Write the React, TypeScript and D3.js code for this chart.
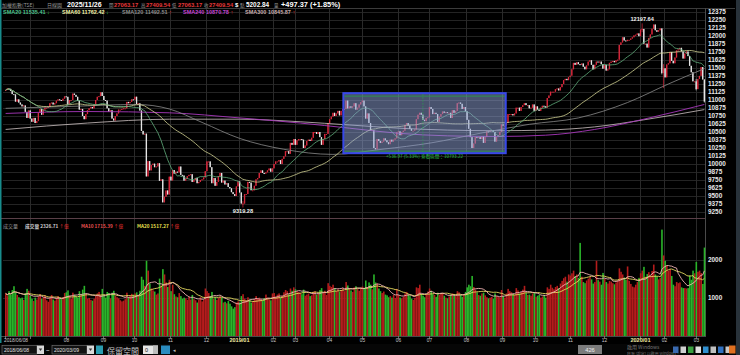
import React from "react";
import * as d3 from "d3";

// ---------- data ----------
const monthLabels = ["2018/06/08", "", "08", "09", "10", "11", "12", "2019/01", "02", "03", "04", "05", "06", "07", "08", "09", "10", "11", "12", "2020/01", "02", "03"];
const monthDays = [15, 22, 23, 19, 22, 22, 20, 21, 13, 21, 20, 22, 19, 23, 22, 20, 21, 21, 22, 15, 19, 6];

const closes = [
  // 2018/06
  11156, 11180, 11175, 11140, 11092, 11087, 10975, 11010, 10960, 10930, 10900, 10915, 10815, 10720, 10836,
  // 07
  10710, 10660, 10720, 10640, 10670, 10800, 10860, 10770, 10850, 10880, 10880, 10890, 10950, 10960, 10930, 10950, 10990, 11010, 11000, 10990, 11020, 11057,
  // 08
  11050, 10930, 11000, 11000, 11100, 11080, 11050, 10990, 10850, 10860, 10750, 10700, 10780, 10840, 10870, 10890, 10870, 10930, 11000, 11050, 11060, 11120, 11063,
  // 09
  11000, 10990, 10870, 10820, 10840, 10710, 10680, 10750, 10790, 10850, 10850, 10860, 10870, 10870, 10970, 10950, 10970, 11010, 11006,
  // 10
  11051, 10937, 10948, 10836, 10517, 10462, 10474, 9806, 10045, 9901, 9984, 10005, 9950, 9962, 10012, 9737, 9760, 9401, 9489, 9586, 9524, 9802,
  // 11
  9743, 9906, 9850, 9880, 9870, 9960, 9830, 9820, 9740, 9770, 9810, 9830, 9840, 9720, 9750, 9780, 9700, 9720, 9750, 9760, 9790, 9888,
  // 12
  10040, 10040, 9950, 9700, 9780, 9660, 9720, 9810, 9860, 9710, 9740, 9680, 9700, 9640, 9620, 9560, 9530, 9500, 9650, 9727,
  // 2019/01
  9555, 9382, 9382, 9528, 9531, 9720, 9709, 9590, 9590, 9660, 9760, 9780, 9860, 9900, 9860, 9850, 9870, 9900, 9930, 9880, 9932,
  // 02
  10000, 10040, 10040, 10060, 10000, 10080, 10120, 10200, 10200, 10160, 10330, 10300, 10390,
  // 03
  10300, 10370, 10390, 10390, 10380, 10250, 10290, 10360, 10380, 10360, 10410, 10500, 10500, 10470, 10500, 10420, 10300, 10390, 10470, 10470, 10641,
  // 04
  10700, 10740, 10800, 10750, 10790, 10830, 10760, 10830, 10860, 10860, 10990, 10870, 10900, 10880, 10900, 10950, 10850, 10880, 10930, 10967,
  // 05
  10990, 10900, 10710, 10790, 10640, 10530, 10530, 10250, 10230, 10390, 10360, 10330, 10350, 10400, 10370, 10340, 10310, 10380, 10350, 10380, 10400, 10498,
  // 06
  10510, 10450, 10500, 10520, 10610, 10640, 10600, 10550, 10520, 10520, 10540, 10700, 10770, 10800, 10770, 10690, 10670, 10720, 10730,
  // 07
  10890, 10860, 10780, 10800, 10780, 10660, 10740, 10780, 10820, 10800, 10810, 10800, 10800, 10720, 10840, 10800, 10830, 10950, 10960, 10940, 10860, 10890, 10823,
  // 08
  10690, 10550, 10420, 10250, 10320, 10420, 10410, 10420, 10390, 10430, 10330, 10420, 10510, 10500, 10520, 10530, 10500, 10350, 10420, 10450, 10500, 10618,
  // 09
  10600, 10600, 10640, 10780, 10780, 10780, 10760, 10790, 10880, 10880, 10830, 10890, 10920, 10950, 10920, 10920, 10870, 10880, 10930, 10830,
  // 10
  10900, 10850, 10830, 10880, 10910, 10900, 10880, 11030, 11070, 11130, 11130, 11130, 11170, 11180, 11150, 11200, 11250, 11310, 11330, 11310, 11358,
  // 11
  11380, 11480, 11580, 11550, 11590, 11560, 11550, 11570, 11520, 11480, 11540, 11600, 11620, 11550, 11480, 11550, 11600, 11590, 11600, 11560, 11490,
  // 12
  11550, 11460, 11480, 11580, 11600, 11610, 11590, 11620, 11630, 11860, 11900, 11980, 11930, 11920, 11940, 11940, 11960, 11980, 12010, 12020, 12040, 11997,
  // 2020/01
  12100, 12110, 11880, 11880, 11820, 11970, 12024, 12113, 12179, 12090, 12066, 12090, 12118, 11421, 11495,
  // 02
  11354, 11555, 11573, 11750, 11612, 11574, 11664, 11774, 11790, 11815, 11760, 11648, 11725, 11758, 11686, 11534, 11433, 11292, 11292,
  // 03
  11170, 11327, 11377, 11514, 11321, 10977,
];

const volumes = [
  1120, 1050, 1180, 1090, 1210, 1310, 1150, 1080, 1020, 990, 1010, 950, 1130, 1240, 1190,
  1060, 980, 920, 1010, 960, 1040, 1100, 980, 1020, 1070, 940, 900, 1000, 1080, 960, 930, 1010, 1050, 990, 970, 1020, 1130,
  1150, 1200, 1060, 980, 1140, 1090, 1030, 1010, 1180, 1070, 1220, 1320, 1110, 980, 1000, 950, 930, 980, 1050, 1120, 1160, 1090, 1240,
  1080, 1010, 1160, 1130, 990, 1140, 1190, 1060, 1020, 990, 940, 910, 930, 970, 1140, 1020, 1050, 1110, 1090,
  1120, 1150, 1080, 1190, 1560, 1480, 1320, 1980, 1720, 1380, 1250, 1200, 1170, 1090, 1120, 1510, 1330, 1760, 1620, 1410, 1290, 1480,
  1180, 1350, 1100, 1040, 1020, 1130, 1050, 980, 1010, 990, 950, 1030, 960, 1080, 970, 940, 880, 950, 1020, 910, 960, 1250,
  1180, 1130, 1050, 1160, 980, 1020, 950, 1000, 1040, 1010, 880, 900, 860, 920, 850, 780, 720, 760, 880, 910,
  880, 1050, 1100, 980, 940, 1020, 960, 880, 920, 970, 1050, 990, 1010, 960, 930, 1000, 1090, 1010, 960, 940, 1120,
  1130, 1040, 1090, 1120, 1010, 1060, 1150, 1210, 1180, 1100, 1250, 1190, 1280,
  1230, 1180, 1160, 1130, 1100, 1220, 1060, 1090, 1120, 1050, 1070, 1160, 1180, 1090, 1120, 1210, 1260, 1130, 1190, 1080, 1390,
  1320, 1290, 1350, 1260, 1180, 1230, 1170, 1210, 1260, 1180, 1420, 1330, 1250, 1200, 1160, 1280, 1310, 1240, 1190, 1260,
  1300, 1250, 1460, 1280, 1410, 1350, 1230, 1620, 1410, 1380, 1250, 1180, 1130, 1170, 1090, 1070, 1020, 1050, 1010, 1080, 1000, 1240,
  1080, 1010, 990, 1030, 1120, 1160, 1090, 1050, 980, 950, 1000, 1280, 1260, 1350, 1110, 1060, 1020, 1090, 1170,
  1250, 1190, 1100, 1080, 1030, 1140, 1080, 1120, 1130, 1060, 1010, 990, 1040, 1090, 1120, 1060, 1050, 1180, 1150, 1090, 1030, 1100, 1160,
  1280, 1350, 1310, 1580, 1290, 1220, 1150, 1080, 1060, 1120, 1140, 1070, 1020, 990, 1010, 1030, 980, 1120, 1050, 1030, 1010, 1210,
  1050, 1010, 1120, 1240, 1180, 1150, 1100, 1080, 1260, 1200, 1120, 1160, 1220, 1320, 1130, 1080, 1090, 1060, 1120, 1140,
  1030, 1060, 1080, 1010, 1040, 1070, 1010, 1280, 1240, 1350, 1270, 1230, 1290, 1320, 1260, 1380, 1450, 1520, 1560, 1430, 1620,
  1590, 1650, 1720, 1580, 1620, 1530, 2450, 1560, 1420, 1390, 1460, 1510, 1550, 1490, 1380, 1420, 1980, 1470, 1430, 1350, 1660,
  1500, 1420, 1380, 1450, 1430, 1390, 1360, 1410, 1460, 1780, 1690, 1620, 1540, 1480, 1830, 1450, 1370, 1300, 1280, 1350, 1420, 1530,
  1650, 1720, 1820, 1560, 1630, 1680, 1590, 1710, 1880, 1620, 1560, 1490, 1530, 2800, 2120,
  1980, 1850, 1720, 1760, 1580, 1350, 1310, 1420, 1390, 1410, 1280, 1260, 1260, 1250, 1260, 1590, 1480, 1720, 1650,
  1950, 1690, 1720, 1657, 1370, 2327,
];

// notable intraday extremes: [bar index, high, low]
const wickMarks = [
  [145, 9420, 9319.28],
  [389, 12197.64, 12060],
  [401, 11650, 11400],
  [402, 11560, 11186],
  [422, 11330, 11150],
  [427, 11321, 10960],
];

// longer moving averages: [bar index, value]
const sma120Pts = [[0, 10870], [40, 10900], [80, 10930], [100, 10860], [120, 10650], [143, 10400], [170, 10230], [200, 10150], [230, 10230], [260, 10330], [290, 10480], [320, 10620], [350, 10720], [380, 10960], [405, 11250], [427, 11490]];
const sma240Pts = [[0, 10790], [50, 10820], [100, 10800], [143, 10720], [180, 10640], [210, 10560], [240, 10480], [270, 10440], [300, 10430], [330, 10450], [360, 10540], [390, 10700], [427, 10930]];
const sma300Pts = [[0, 10540], [50, 10640], [100, 10700], [143, 10700], [180, 10660], [210, 10610], [240, 10560], [270, 10530], [300, 10520], [330, 10530], [360, 10580], [390, 10690], [427, 10850]];

const priceTicks = d3.range(9250, 12376, 125);
const volTicks = [1000, 2000];

const headerItems = [
  { t: "加權指數(TSE)", c: "#9a9a9a", cjk: true, s: 5 },
  { t: "日線圖", c: "#9a9a9a", cjk: true, s: 5 },
  { t: "2025/11/26", c: "#ffffff", s: 7, b: true },
  { t: "開", c: "#9a9a9a", cjk: true, s: 4.5 },
  { t: "27063.17", c: "#e8383a", s: 5.8, b: true },
  { t: "高", c: "#9a9a9a", cjk: true, s: 4.5 },
  { t: "27409.54", c: "#e8383a", s: 5.8, b: true },
  { t: "低", c: "#9a9a9a", cjk: true, s: 4.5 },
  { t: "27063.17", c: "#e8383a", s: 5.8, b: true },
  { t: "收", c: "#9a9a9a", cjk: true, s: 4.5 },
  { t: "27409.54", c: "#e8383a", s: 5.8, b: true },
  { t: "$", c: "#ffffff", s: 6, b: true },
  { t: "點", c: "#9a9a9a", cjk: true, s: 4.5 },
  { t: "5202.84", c: "#ffffff", s: 6.4, b: true },
  { t: "量", c: "#9a9a9a", cjk: true, s: 4.5 },
  { t: "+497.37 (+1.85%)", c: "#ffffff", s: 7.4, b: true },
];
const headerX = [2, 47, 67, 109, 114, 141, 146, 172, 178, 204, 209, 235, 240, 246, 274, 281];

const smaLegend = [
  { name: "SMA20", val: "11535.41", up: false, c: "#4cc08c" },
  { name: "SMA60", val: "11762.42", up: false, c: "#f2f2a8" },
  { name: "SMA120", val: "11492.51", up: true, c: "#8c8c8c" },
  { name: "SMA240", val: "10870.78", up: true, c: "#c444d4" },
  { name: "SMA300", val: "10845.87", up: true, c: "#c8aeae" },
];
const smaLegendX = [3, 62, 122, 183, 245];

const volLegend = [
  { t: "成交量 2326.71", c: "#d0d0d0" },
  { t: "MA10 1715.39", c: "#e85050" },
  { t: "MA20 1517.27", c: "#e8e050" },
];
const volLegendX = [25, 81, 137];

const selStart = 208, selEnd = 304, selHigh = 11060, selLow = 10200, cursorIdx = 255;
const selText = "+536.97 (5.33%) 查看區間：10793.22";

const NUM = "'Liberation Sans', Arial, sans-serif";
const CJK = "'Noto Sans CJK TC', 'Noto Sans CJK SC', sans-serif";

const X0 = 5, X1 = 705;

export default function App() {
  const N = closes.length;
  const bx = d3.scaleBand<number>().domain(d3.range(N)).range([X0, X1]).paddingInner(0.2);
  const bw = bx.bandwidth();
  const left = (i: number) => bx(i) as number;
  const cx = (i: number) => left(i) + bw / 2;
  const yP = d3.scaleLinear().domain([9250, 12375]).range([212, 12]);
  const yV = d3.scaleLinear().domain([0, 2000]).range([336, 260]);

  const opens = closes.map((c, i) => (i === 0 ? c : closes[i - 1]));
  const wm = new Map<number, number[]>(wickMarks.map((w) => [w[0], w] as [number, number[]]));
  const highs = closes.map((c, i) => Math.max(c, opens[i], wm.has(i) ? wm.get(i)![1] : -Infinity));
  const lows = closes.map((c, i) => Math.min(c, opens[i], wm.has(i) ? wm.get(i)![2] : Infinity));
  const ups = closes.map((c, i) => c >= opens[i]);

  const sma = (arr: number[], n: number) => arr.map((_, i) => d3.mean(arr.slice(Math.max(0, i - n + 1), i + 1)) as number);
  const sma20 = sma(closes, 20).map((v, i) => [i, v]);
  const sma60 = sma(closes, 60).map((v, i) => [i, v]);
  const vma10 = sma(volumes, 10).map((v, i) => [i, v]);
  const vma20 = sma(volumes, 20).map((v, i) => [i, v]);

  const pLine = d3.line<number[]>().x((d) => cx(d[0])).y((d) => yP(d[1]));
  const pCurve = d3.line<number[]>().x((d) => cx(d[0])).y((d) => yP(d[1])).curve(d3.curveMonotoneX);
  const vLine = d3.line<number[]>().x((d) => cx(d[0])).y((d) => yV(d[1]));

  const monthStarts: number[] = [];
  monthDays.forEach((d, k) => monthStarts.push(k === 0 ? 0 : monthStarts[k - 1] + monthDays[k - 1]));

  const hiIdx = d3.maxIndex(highs);
  const loIdx = d3.minIndex(lows);

  const boxX0 = left(selStart) - 2;
  const boxX1 = left(selEnd) + bw + 2;
  const boxY0 = yP(selHigh) - 3;
  const boxY1 = yP(selLow) + 2;

  const icons = ["#3a6ab0", "#d0d0d0", "#3aa040", "#e0e0e0", "#3090d0", "#c0c0c0", "#3070c0", "#c8c8c8"];

  return (
    <svg width={740} height={355} style={{ position: "absolute", left: 0, top: 0, background: "#000" }}>
      <rect x={0} y={0} width={740} height={355} fill="#000" />

      {/* grid */}
      {priceTicks.map((v) => (
        <line key={"hg" + v} x1={X0 - 2} x2={X1} y1={Math.round(yP(v)) + 0.5} y2={Math.round(yP(v)) + 0.5} stroke="#242424" strokeWidth={1} />
      ))}
      {volTicks.map((v) => (
        <line key={"vg" + v} x1={X0 - 2} x2={X1} y1={Math.round(yV(v)) + 0.5} y2={Math.round(yV(v)) + 0.5} stroke="#242424" strokeWidth={1} />
      ))}
      {monthStarts.map((s, k) =>
        k === 0 ? null : (
          <line key={"mg" + k} x1={Math.round(left(s)) + 0.5} x2={Math.round(left(s)) + 0.5} y1={8} y2={336} stroke="#2a2a2a" strokeWidth={1} />
        )
      )}

      {/* frame lines */}
      <line x1={0} x2={735} y1={8.5} y2={8.5} stroke="#3c3c3c" />
      <line x1={0} x2={705} y1={218.5} y2={218.5} stroke="#5a4048" />
      <line x1={705.5} x2={705.5} y1={8} y2={337} stroke="#4a4a4a" />
      <line x1={0} x2={705} y1={336.5} y2={336.5} stroke="#4a4a4a" />

      {/* candles */}
      {closes.map((c, i) => {
        const o = opens[i];
        const top = yP(Math.max(o, c));
        const h = Math.max(1, yP(Math.min(o, c)) - top);
        const col = ups[i] ? "#d8283c" : "#e6e6e6";
        return (
          <g key={"c" + i}>
            <line x1={cx(i)} x2={cx(i)} y1={yP(highs[i])} y2={yP(lows[i])} stroke={col} strokeWidth={0.7} />
            <rect x={left(i)} y={top} width={bw} height={h} fill={col} />
          </g>
        );
      })}

      {/* moving averages */}
      <path d={pCurve(sma300Pts) || ""} fill="none" stroke="#cfc4c4" strokeWidth={0.8} />
      <path d={pCurve(sma240Pts) || ""} fill="none" stroke="#a838bc" strokeWidth={0.9} />
      <path d={pCurve(sma120Pts) || ""} fill="none" stroke="#8c8c8c" strokeWidth={0.8} />
      <path d={pLine(sma60) || ""} fill="none" stroke="#d4d494" strokeWidth={0.8} />
      <path d={pLine(sma20) || ""} fill="none" stroke="#62b07e" strokeWidth={0.8} />

      {/* selection box */}
      <rect x={boxX0} y={boxY0} width={boxX1 - boxX0} height={boxY1 - boxY0} fill="rgba(140,160,210,0.52)" stroke="#3848e8" strokeWidth={2} />
      <line x1={boxX0 + 1} x2={boxX1 - 1} y1={yP(selHigh)} y2={yP(selHigh)} stroke="#2aa04c" strokeWidth={0.8} />
      <line x1={boxX0 + 1} x2={boxX1 - 1} y1={yP(selLow)} y2={yP(selLow)} stroke="#2aa04c" strokeWidth={0.8} />
      <line x1={cx(cursorIdx)} x2={cx(cursorIdx)} y1={boxY0 + 1} y2={boxY1 - 1} stroke="#2aa04c" strokeWidth={0.8} strokeDasharray="1.5,1.5" />
      <text x={(boxX0 + boxX1) / 2} y={boxY1 + 4.8} fontSize={4.6} fill="#2cc048" fontFamily={CJK} textAnchor="middle">{selText}</text>

      {/* extreme labels */}
      <text x={cx(hiIdx)} y={yP(highs[hiIdx]) - 2} fontSize={5.6} fill="#f0f0f0" fontFamily={NUM} fontWeight="bold" textAnchor="middle">{highs[hiIdx].toFixed(2)}</text>
      <text x={cx(loIdx)} y={yP(lows[loIdx]) + 5} fontSize={5.6} fill="#f0f0f0" fontFamily={NUM} fontWeight="bold" textAnchor="middle">{lows[loIdx].toFixed(2)}</text>

      {/* volume */}
      {volumes.map((v, i) => (
        <rect key={"v" + i} x={left(i)} y={yV(v)} width={bw + 0.3} height={yV(0) - yV(v)} fill={ups[i] ? "#b41c1c" : "#2ab42a"} />
      ))}
      <path d={vLine(vma20) || ""} fill="none" stroke="#e8dc60" strokeWidth={0.9} />
      <path d={vLine(vma10) || ""} fill="none" stroke="#f2b4b4" strokeWidth={0.9} />

      {/* right axis */}
      {priceTicks.map((v) => (
        <text key={"pt" + v} x={708} y={yP(v) + 2.2} fontSize={6.4} fill="#e8e8e8" fontFamily={NUM} fontWeight="bold">{v}</text>
      ))}
      {volTicks.map((v) => (
        <text key={"vt" + v} x={708} y={yV(v) + 2.2} fontSize={6.4} fill="#e8e8e8" fontFamily={NUM} fontWeight="bold">{v}</text>
      ))}

      {/* x axis */}
      {monthStarts.map((s, k) => {
        const x = Math.round(left(s)) + 0.5;
        const lab = monthLabels[k];
        const year = lab.length === 7;
        return (
          <g key={"xl" + k}>
            <line x1={x} x2={x} y1={336} y2={339} stroke="#808080" strokeWidth={0.8} />
            {lab && (
              <text x={k === 0 ? 4 : x} y={342.4} fontSize={year ? 5.6 : 4.8} fill={year ? "#f0e8a0" : "#c8c8c8"} fontFamily={NUM} fontWeight={year ? "bold" : "normal"} textAnchor={k === 0 ? "start" : "middle"}>{lab}</text>
            )}
          </g>
        );
      })}

      {/* header */}
      {headerItems.map((h, k) => (
        <text key={"h" + k} x={headerX[k]} y={6.6} fontSize={h.s} fill={h.c} fontFamily={h.cjk ? CJK : NUM} fontWeight={h.b ? "bold" : "normal"}>{h.t}</text>
      ))}

      {/* SMA legend */}
      {smaLegend.map((s, k) => (
        <text key={"sl" + k} x={smaLegendX[k]} y={13.6} fontSize={5.5} fill={s.c} fontFamily={NUM} fontWeight="bold">
          {s.name + " " + s.val}
          <tspan fill={s.up ? "#e83030" : "#30c040"}>{s.up ? " ↑" : " ↓"}</tspan>
        </text>
      ))}

      {/* volume legend */}
      <text x={3} y={227.6} fontSize={5} fill="#9a9a9a" fontFamily={CJK}>成交量</text>
      {volLegend.map((v, k) => (
        <text key={"vl" + k} x={volLegendX[k]} y={227.6} fontSize={4.7} fill={v.c} fontFamily={CJK} fontWeight="bold">
          {v.t}
          <tspan fill="#e83030" fontWeight="normal">{" ↑億"}</tspan>
        </text>
      ))}

      {/* borders */}
      <rect x={0} y={0} width={1.5} height={343} fill="#188c8c" />
      <rect x={736} y={0} width={4} height={355} fill="#28323a" />

      {/* toolbar */}
      <rect x={0} y={344} width={736} height={11} fill="#060606" />
      <rect x={2} y={345.5} width={35} height={8.5} fill="#121212" stroke="#7a7a7a" strokeWidth={0.6} />
      <text x={4} y={351.8} fontSize={5} fill="#e0e0e0" fontFamily={NUM}>2018/06/08</text>
      <rect x={37} y={345.5} width={7} height={8.5} fill="#d8d8d8" />
      <path d="M38.8,348.6 L42.2,348.6 L40.5,351 Z" fill="#333" />
      <text x={46} y={352} fontSize={6} fill="#e0e0e0" fontFamily={NUM}>~</text>
      <rect x={52} y={345.5} width={35} height={8.5} fill="#121212" stroke="#7a7a7a" strokeWidth={0.6} />
      <text x={54} y={351.8} fontSize={5} fill="#e0e0e0" fontFamily={NUM}>2020/03/09</text>
      <rect x={87} y={345.5} width={7} height={8.5} fill="#d8d8d8" />
      <path d="M88.8,348.6 L92.2,348.6 L90.5,351 Z" fill="#333" />
      <rect x={96} y={345.5} width={7} height={8.5} fill="#2a9cb0" />
      <text x={107} y={353.5} fontSize={8} fill="#c8c8c8" fontFamily={CJK}>保留空間</text>
      <rect x={143} y={345.5} width={15} height={8.5} fill="#e6e6e6" />
      <text x={145} y={352} fontSize={5.5} fill="#222" fontFamily={NUM}>0</text>
      <rect x={153} y={345.5} width={5} height={8.5} fill="#bdbdbd" />
      <rect x={161} y={345.5} width={9} height={8.5} fill="#2a8cc0" />
      <text x={173} y={352} fontSize={5} fill="#c0c0c0" fontFamily={NUM}>◂</text>
      <rect x={578} y={345} width={24} height={9} fill="#7c7c7c" />
      <text x={590} y={351.8} fontSize={5.8} fill="#f0f0f0" fontFamily={NUM} textAnchor="middle">426</text>
      <text x={627} y={349.4} fontSize={5} fill="rgba(210,210,210,0.55)" fontFamily={CJK}>啟用 Windows</text>
      <text x={627} y={355} fontSize={3.9} fill="rgba(210,210,210,0.5)" fontFamily={CJK}>移至 [設定] 以啟用 Windows。</text>
      {icons.map((c, k) => (
        <rect key={"ic" + k} x={673 + k * 7.5} y={346.5} width={5.5} height={6.5} fill={c} />
      ))}
      <rect x={729} y={345.5} width={6.5} height={8} fill="#e07020" />
    </svg>
  );
}
